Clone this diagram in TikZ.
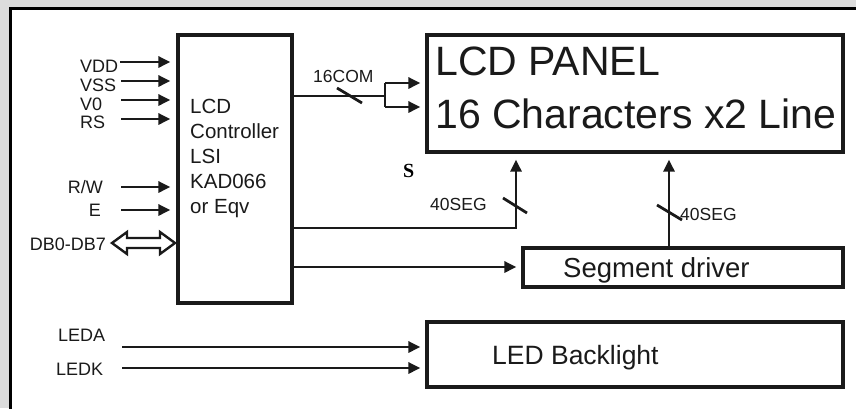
\documentclass[tikz,border=0pt]{standalone}
\usepackage{fontspec}
\setmainfont{Liberation Sans}
\newfontfamily\serifbold{Liberation Serif}
\usetikzlibrary{arrows.meta}

\definecolor{ink}{HTML}{1A1A1A}
\definecolor{outside}{HTML}{DCDCDC}

\tikzset{
    blockbox/.style={draw=ink, line width=3.2pt, inner sep=0pt},
    boxlabel/.style={text=ink, inner sep=0pt, anchor=base west},
    pinlabel/.style={text=ink, inner sep=0pt, font=\fontsize{18}{19}\selectfont},
    wire/.style={draw=ink, line width=2.8pt},
    sigarrow/.style={wire, -{Triangle[length=12pt,width=11pt]}},
    busslash/.style={draw=ink, line width=2.8pt}
}

\begin{document}
\begin{tikzpicture}[x=1pt, y=-1pt]
    % ===== PARAMETERS =====
    \pgfmathsetmacro{\W}{856}   % picture width
    \pgfmathsetmacro{\H}{408}   % picture height
    \pgfmathsetmacro{\G}{6}     % gap between arrow tip and box

    % ===== BACKGROUND AND FRAME =====
    \useasboundingbox (0,0) rectangle (\W,\H);
    \fill[outside] (0,0) rectangle (\W,\H);
    \fill[white] (10,8) rectangle (\W+20,\H+20);
    \draw[black, line width=3pt] (\W+20,8) -- (10,8) -- (10,\H+20);

    % ===== BLOCKS =====
    \node[blockbox, minimum width=114pt, minimum height=268pt] (ctrl) at (235,169) {};
    \node[blockbox, minimum width=416pt, minimum height=117pt] (panel) at (635,93.5) {};
    \node[blockbox, minimum width=320pt, minimum height=39pt] (segdrv) at (683,267.5) {};
    \node[blockbox, minimum width=416pt, minimum height=65pt] (backlight) at (635,354.5) {};

    % ===== TEXT INSIDE BLOCKS =====
    % (base anchor of a multi-line node sits on its last line)
    \node[boxlabel, align=left, font=\fontsize{20.5}{25}\selectfont] (ctrltext) at (190,213)
        {LCD\\Controller\\LSI\\KAD066\\or Eqv};
    \node[boxlabel, align=left, font=\fontsize{41}{53}\selectfont] (paneltext) at (435,128)
        {LCD PANEL\\16 Characters x2 Line};
    \node[boxlabel, font=\fontsize{27.5}{30}\selectfont] (segtext) at (563,277) {Segment driver};
    \node[boxlabel, font=\fontsize{26.5}{30}\selectfont] (bltext) at (492,364) {LED Backlight};

    % ===== INPUT PINS =====
    % Power and register select
    \node[pinlabel, anchor=base west] (vdd) at (80,72) {VDD};
    \node[pinlabel, anchor=base west] (vss) at (80,91) {VSS};
    \node[pinlabel, anchor=base west] (vo) at (80,110) {V0};
    \node[pinlabel, anchor=base west] (rs) at (80,128) {RS};
    \coordinate (vddin) at (120,62);
    \coordinate (vssin) at (121,81);
    \coordinate (voin) at (121,100);
    \coordinate (rsin) at (121,119);
    \draw[sigarrow, shorten >=\G pt] (vddin) -- (vddin -| ctrl.west);
    \draw[sigarrow, shorten >=\G pt] (vssin) -- (vssin -| ctrl.west);
    \draw[sigarrow, shorten >=\G pt] (voin) -- (voin -| ctrl.west);
    \draw[sigarrow, shorten >=\G pt] (rsin) -- (rsin -| ctrl.west);

    % Read/write and enable
    \node[pinlabel, anchor=base east] (rw) at (103,193) {R/W};
    \node[pinlabel, anchor=base east] (en) at (101,216.5) {E};
    \coordinate (rwin) at (121,187);
    \coordinate (enin) at (121,210);
    \draw[sigarrow, shorten >=\G pt] (rwin) -- (rwin -| ctrl.west);
    \draw[sigarrow, shorten >=\G pt] (enin) -- (enin -| ctrl.west);

    % Data bus (hollow double arrow)
    \node[pinlabel, anchor=base east] (db) at (106,250) {DB0-DB7};
    \coordinate (dbin) at (112,243);
    \draw[draw=ink, fill=white, line width=2.4pt, line join=miter]
        (dbin) -- ++(15,-11) -- ++(0,6) -- ++(33,0) -- ++(0,-6) -- ++(15,11)
        -- ++(-15,11) -- ++(0,-6) -- ++(-33,0) -- ++(0,6) -- cycle;

    % ===== CONTROLLER TO PANEL =====
    % Common lines
    \coordinate (comsplit) at (385,96);
    \draw[wire] (comsplit -| ctrl.east) -- (comsplit);
    \draw[wire] (385,83) -- (385,107);
    \draw[sigarrow, shorten >=5pt] (385,83) -- (panel.west |- 0,83);
    \draw[sigarrow, shorten >=5pt] (385,107) -- (panel.west |- 0,107);
    \draw[busslash] (337,88) -- (362,103);
    \node[pinlabel, font=\fontsize{17.5}{19}\selectfont, anchor=base west] (comlbl) at (313,82) {16COM};

    % Segment lines, direct
    \coordinate (segcorner) at (516,228);
    \draw[sigarrow, shorten >=\G pt] (segcorner -| ctrl.east) -- (segcorner) -- (segcorner |- panel.south);
    \draw[busslash] (503,198) -- (527,213);
    \node[pinlabel, font=\fontsize{17.5}{19}\selectfont, anchor=base west] (seglblA) at (430,210) {40SEG};

    % Controller to segment driver
    \coordinate (drvin) at (292,267);
    \draw[sigarrow, shorten >=5pt] (ctrl.east |- drvin) -- (segdrv.west |- drvin);

    % Segment driver to panel
    \coordinate (drvout) at (669,248);
    \draw[sigarrow, shorten >=\G pt] (drvout |- segdrv.north) -- (drvout |- panel.south);
    \draw[busslash] (657,205) -- (682,220);
    \node[pinlabel, font=\fontsize{17.5}{19}\selectfont, anchor=base west] (seglblB) at (680,220) {40SEG};

    % Stray mark
    \node[inner sep=0pt, anchor=base west, font=\serifbold\bfseries\fontsize{20}{22}\selectfont] (mark) at (403,177) {S};

    % ===== BACKLIGHT =====
    \node[pinlabel, anchor=base west] (leda) at (58,341) {LEDA};
    \node[pinlabel, anchor=base west] (ledk) at (56,375) {LEDK};
    \coordinate (ledain) at (122,347);
    \coordinate (ledkin) at (122,368);
    \draw[sigarrow, shorten >=5pt] (ledain) -- (ledain -| backlight.west);
    \draw[sigarrow, shorten >=5pt] (ledkin) -- (ledkin -| backlight.west);
\end{tikzpicture}
\end{document}
